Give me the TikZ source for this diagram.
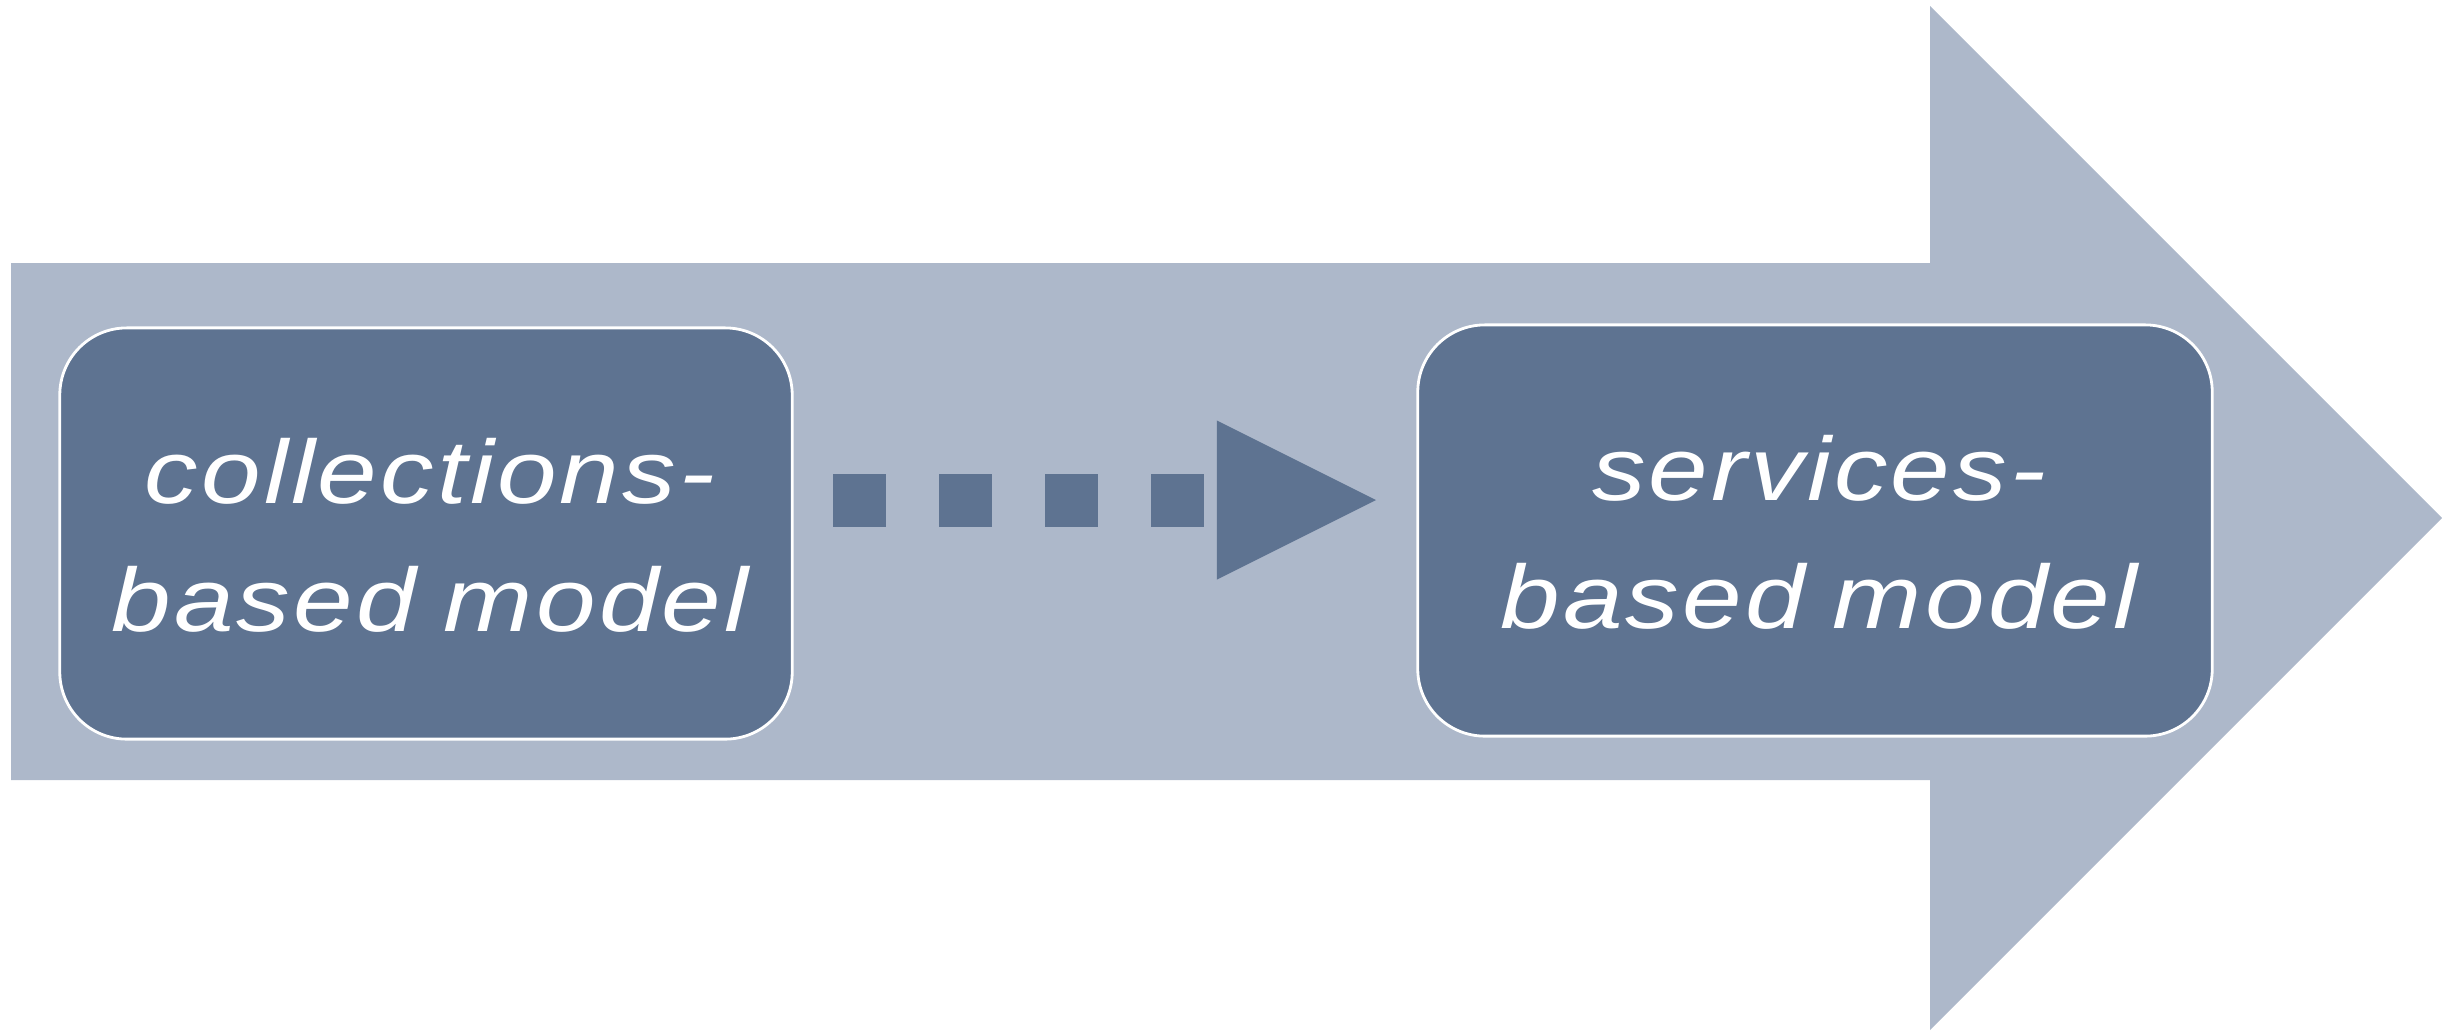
\documentclass[tikz,border=0pt]{standalone}
\usepackage{fontspec}
\setmainfont{Liberation Sans}
\usetikzlibrary{arrows.meta}
\definecolor{lightblue}{RGB}{173,184,202}
\definecolor{darkblue}{RGB}{94,115,145}
\newfontfamily\lblfont[FakeStretch=1.19,LetterSpace=3.5,WordSpace=0.85]{Liberation Sans}
\begin{document}
\begin{tikzpicture}[x=0.01cm,y=-0.01cm,
  bigarrow/.style={fill=lightblue,draw=none},
  modelbox/.style={draw=white,line width=0.8pt,fill=darkblue,rounded corners=0.67cm,inner sep=0pt,minimum height=4.11cm},
  lbl/.style={text=white,align=center,font=\lblfont\itshape\fontsize{25.6pt}{36.4pt}\selectfont,inner sep=0pt},
  dotarrow/.style={draw=darkblue,line width=0.53cm,dash pattern=on 0.53cm off 0.53cm,
    -{Triangle[length=1.59cm,width=1.59cm,line width=0pt,fill=darkblue]}}
]
\useasboundingbox (0,0) rectangle (2442,1035);
\fill[bigarrow] (11,263) -- (1930,263) -- (1930,6) -- (2442,518) -- (1930,1030) -- (1930,780) -- (11,780) -- cycle;
\node[modelbox,minimum width=7.32cm] (L) at (426,533.5) {};
\node[modelbox,minimum width=7.94cm] (R) at (1815,530.5) {};
\node[lbl] (Lt) at ([xshift=0.04cm,yshift=-0.02cm]L.center) {collections-\\based model};
\node[lbl] (Rt) at ([xshift=0.04cm,yshift=-0.02cm]R.center) {services-\\based model};
\coordinate (a) at (833,500);
\coordinate (b) at (1376,500);
\draw[dotarrow] (a) -- (b);
\end{tikzpicture}
\end{document}
